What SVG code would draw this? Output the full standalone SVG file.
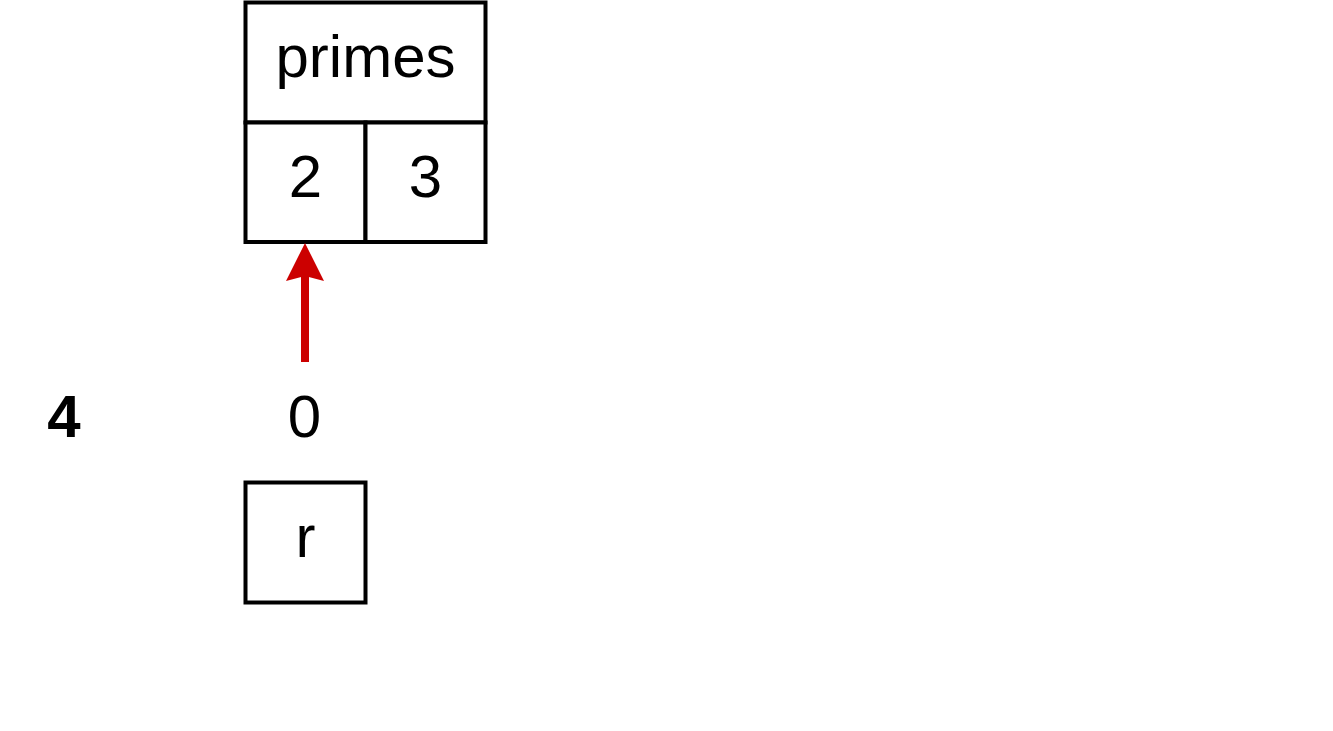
<svg xmlns="http://www.w3.org/2000/svg" width="1333" height="731" viewBox="0 0 1333 731">
<style>
.box{fill:#fff;stroke:#000;stroke-width:4}
.t{font-family:"Liberation Sans",Arial,Helvetica,sans-serif;font-size:60px;fill:#000;text-anchor:middle}
.b{font-weight:bold}
</style>
<rect width="1333" height="731" fill="#fff"/>
<g id="primes">
<rect class="box" x="245.5" y="2.5" width="240" height="120"/>
<text class="t" x="365.5" y="77">primes</text>
</g>
<g id="cell-2">
<rect class="box" x="245.5" y="122.5" width="120" height="119.5"/>
<text class="t" x="305.5" y="197">2</text>
</g>
<g id="cell-3">
<rect class="box" x="365.5" y="122.5" width="120" height="119.5"/>
<text class="t" x="425.5" y="197">3</text>
</g>
<g id="label-4">
<text class="t b" x="64" y="437">4</text>
</g>
<g id="label-0">
<text class="t" x="304.5" y="437">0</text>
</g>
<g id="r">
<rect class="box" x="245.5" y="482.5" width="120" height="120"/>
<text class="t" x="305.5" y="557">r</text>
</g>
<g id="connectors">
<line x1="305" y1="362" x2="305" y2="276" stroke="#cc0000" stroke-width="8"/>
<polygon points="305,243 324,281 305,276 286,281" fill="#cc0000"/>
</g>
</svg>
